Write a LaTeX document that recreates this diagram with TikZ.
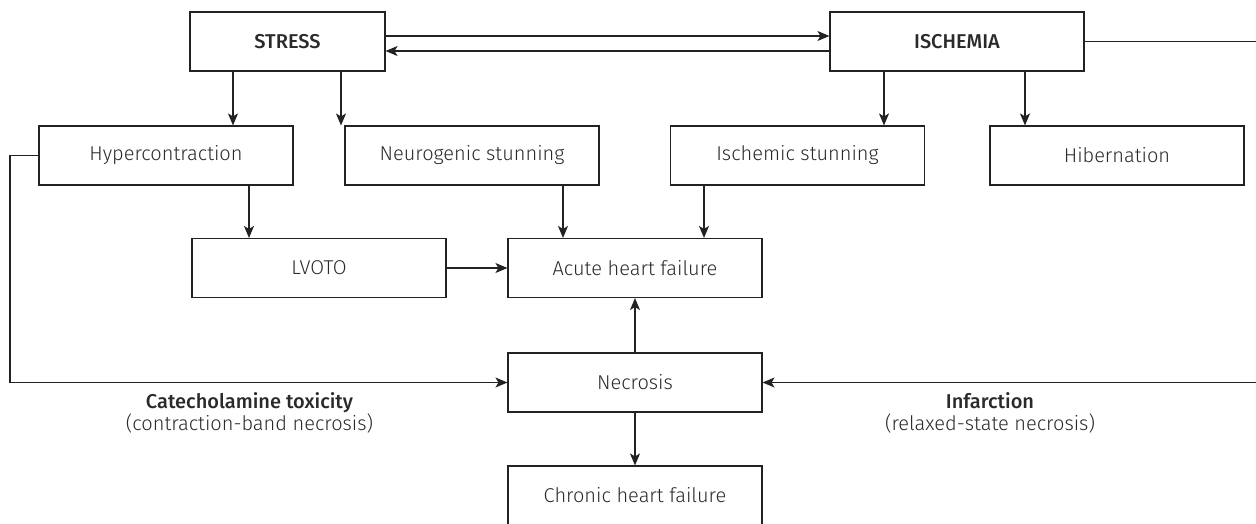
\documentclass[tikz,border=0pt]{standalone}
\usepackage{fontspec}
\setmainfont{Fira Sans}[UprightFont=* Light, BoldFont=* Medium]
\usetikzlibrary{arrows.meta}
\definecolor{ink}{HTML}{222222}
\definecolor{txt}{HTML}{2a2a2a}
\tikzset{
  box/.style={draw=ink, line width=1.1pt, minimum height=59pt, inner sep=0pt, text=txt, font=\fontsize{20}{24}\selectfont},
  wbox/.style={box, minimum width=254pt},
  conn/.style={draw=ink, line width=1.1pt},
  arr/.style={conn, -{Stealth[length=12pt,width=10pt,inset=3pt]}},
  lbl/.style={text=txt, align=center, font=\fontsize{20}{22}\selectfont, inner sep=0pt}
}
\begin{document}
\begin{tikzpicture}[x=1pt,y=-1pt]
\useasboundingbox (0,0) rectangle (1256,523);
% top row
\node[box, minimum width=195pt] (stress) at (287.5,41.5) {\textbf{STRESS}};
\node[wbox] (isch) at (957,41.5) {\textbf{ISCHEMIA}};
% second row
\node[wbox] (hyper) at (166,155.5) {Hypercontraction};
\node[wbox] (neuro) at (472,155.5) {Neurogenic stunning};
\node[wbox] (istun) at (797.5,155.5) {Ischemic stunning};
\node[wbox] (hib) at (1117,155.5) {Hibernation};
% third row
\node[wbox] (lvoto) at (319,268) {LVOTO};
\node[wbox] (acute) at (635,268) {Acute heart failure};
% necrosis and chronic
\node[wbox] (necr) at (635,382.5) {Necrosis};
\node[wbox] (chron) at (635,495.5) {Chronic heart failure};
% labels
\node[lbl] (cat) at (249.5,413) {\textbf{Catecholamine toxicity}\\(contraction-band necrosis)};
\node[lbl] (inf) at (990,413) {\textbf{Infarction}\\(relaxed-state necrosis)};
% coordinates for free routing
\coordinate (hl) at (10,155.5);
\coordinate (hb) at (10,382.5);
\coordinate (ir) at (1258,41.5);
\coordinate (ib) at (1258,382.5);
% connectors
\draw[arr] (stress.east |- 0,36) -- (isch.west |- 0,36);
\draw[arr] (isch.west |- 0,51) -- (stress.east |- 0,51);
\draw[arr] (stress.south -| 233,0) -- (hyper.north -| 233,0);
\draw[arr] (stress.south -| 341,0) -- (neuro.north -| 341,0);
\draw[arr] (isch.south -| 884,0) -- (istun.north -| 884,0);
\draw[arr] (isch.south -| 1025,0) -- (hib.north -| 1025,0);
\draw[arr] (hyper.south -| 249,0) -- (lvoto.north -| 249,0);
\draw[arr] (lvoto.east) -- (acute.west);
\draw[arr] (neuro.south -| 563,0) -- (acute.north -| 563,0);
\draw[arr] (istun.south -| 704,0) -- (acute.north -| 704,0);
\draw[arr] (necr.north) -- (acute.south);
\draw[arr] (necr.south) -- (chron.north);
\draw[arr] (hyper.west) -- (hl) -- (hb) -- (necr.west);
\draw[arr] (isch.east) -- (ir) -- (ib) -- (necr.east);
\end{tikzpicture}
\end{document}
